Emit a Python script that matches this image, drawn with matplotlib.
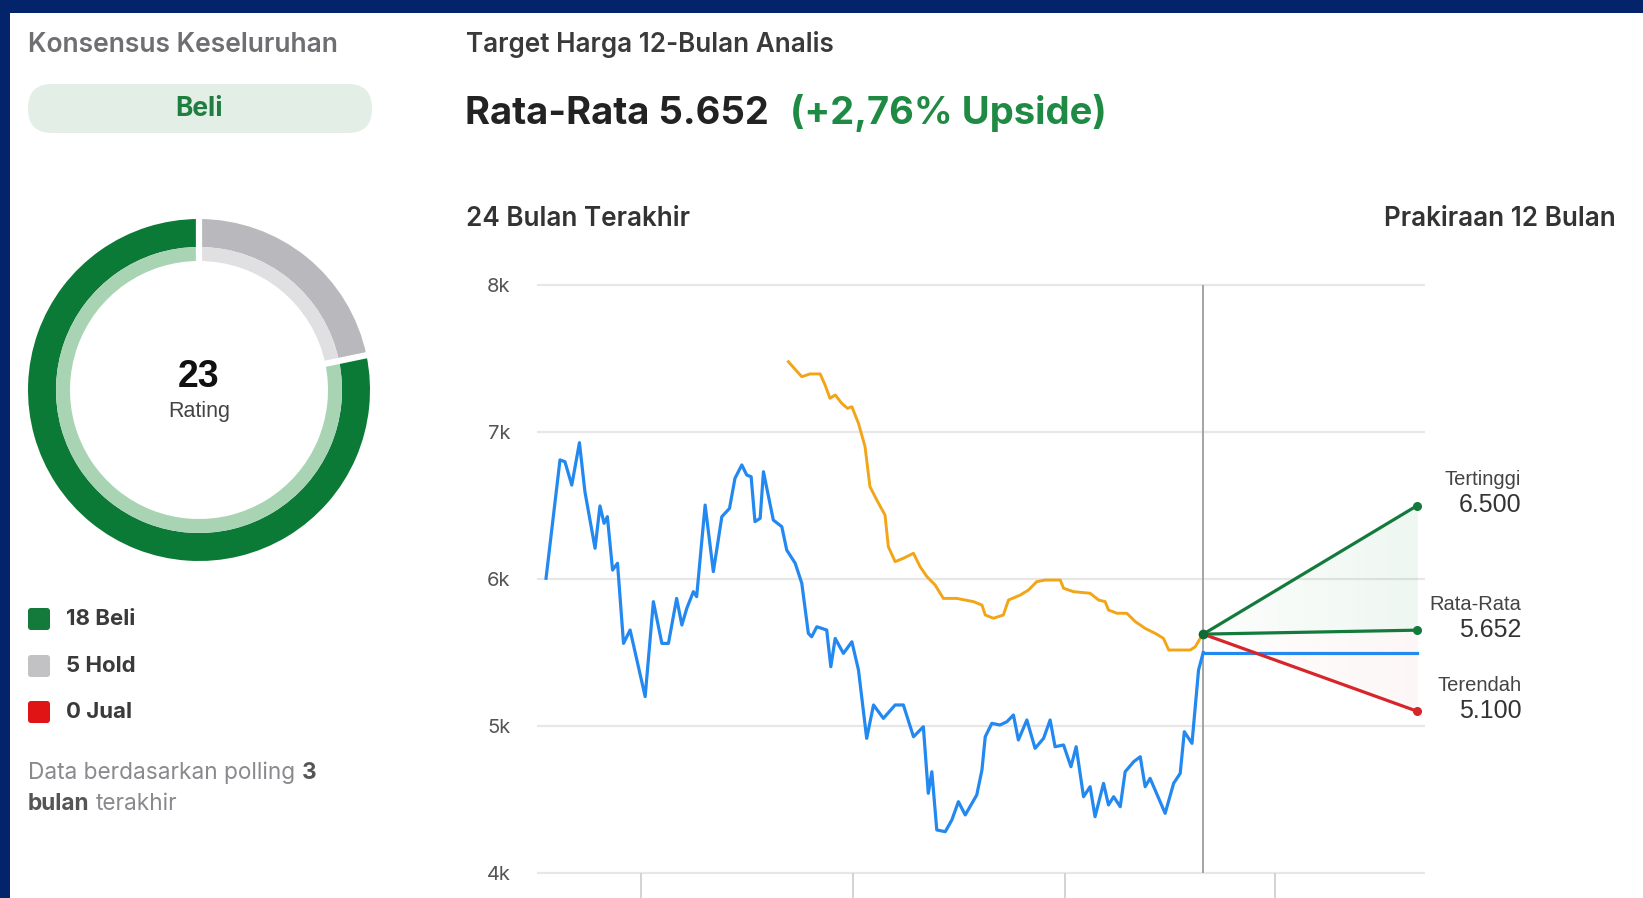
import matplotlib
matplotlib.use("Agg")
import matplotlib.pyplot as plt
from matplotlib.patches import FancyBboxPatch, Rectangle
import numpy as np

plt.rcParams['font.family'] = ['Inter', 'DejaVu Sans']

# ---- data ----
rating_labels = ['Beli', 'Hold', 'Jual']
rating_counts = [18, 5, 0]
total_ratings = 23

# price, last 24 months (x in months)
price_m = [0, 0.51, 0.69, 0.94, 1.22, 1.42, 1.79, 1.97, 2.12, 2.24, 2.43, 2.61, 2.83, 3.07, 3.62,
           3.92, 4.23, 4.47, 4.77, 4.96, 5.14, 5.38, 5.50, 5.81, 6.11, 6.42, 6.70, 6.90, 7.15, 7.33,
           7.49, 7.63, 7.82, 7.94, 8.30, 8.61, 8.79, 9.10, 9.34, 9.58, 9.70, 9.89, 10.25, 10.40, 10.56,
           10.86, 11.17, 11.41, 11.71, 11.96, 12.32, 12.75, 13.05, 13.42, 13.78, 13.96, 14.09, 14.27,
           14.58, 14.82, 15.06, 15.31, 15.73, 15.92, 16.04, 16.28, 16.58, 16.83, 17.07, 17.25, 17.56,
           17.86, 18.17, 18.41, 18.59, 18.90, 19.17, 19.36, 19.63, 19.87, 20.05, 20.36, 20.54, 20.73,
           20.97, 21.15, 21.46, 21.70, 21.88, 22.06, 22.61, 22.92, 23.16, 23.31, 23.59, 23.83, 24.0]
price_v = [6005, 6810, 6798, 6639, 6927, 6594, 6209, 6497, 6379, 6424, 6061, 6107, 5562, 5653, 5200,
           5846, 5562, 5562, 5868, 5687, 5800, 5914, 5880, 6503, 6050, 6424, 6480, 6685, 6776, 6707,
           6696, 6390, 6413, 6730, 6401, 6356, 6197, 6107, 5971, 5630, 5607, 5675, 5653, 5403, 5596,
           5494, 5573, 5381, 4916, 5143, 5052, 5143, 5143, 4927, 4995, 4542, 4689, 4293, 4281, 4361,
           4485, 4395, 4531, 4701, 4927, 5018, 5007, 5029, 5075, 4905, 5041, 4848, 4916, 5041, 4859,
           4871, 4723, 4859, 4519, 4587, 4383, 4610, 4463, 4519, 4451, 4689, 4757, 4791, 4587, 4644,
           4406, 4610, 4678, 4961, 4882, 5381, 5500]

# average analyst target history
target_m = [8.85, 9.34, 9.64, 10.01, 10.19, 10.37, 10.56, 10.80, 11.01, 11.17, 11.41, 11.65, 11.83,
            12.08, 12.38, 12.50, 12.75, 13.05, 13.42, 13.66, 13.91, 14.21, 14.51, 15.00, 15.61, 15.92,
            16.04, 16.34, 16.70, 16.89, 17.32, 17.62, 17.92, 18.23, 18.78, 18.90, 19.26, 19.87, 20.18,
            20.42, 20.54, 20.85, 21.21, 21.52, 21.88, 22.25, 22.55, 22.74, 23.16, 23.53, 23.71, 23.89]
target_v = [7478, 7376, 7395, 7395, 7320, 7229, 7252, 7195, 7161, 7172, 7059, 6900, 6628,
            6537, 6435, 6220, 6118, 6141, 6175, 6084, 6016, 5959, 5868, 5868, 5846, 5823,
            5755, 5733, 5755, 5857, 5891, 5925, 5982, 5993, 5993, 5937, 5914, 5903, 5857,
            5846, 5789, 5767, 5767, 5710, 5664, 5630, 5596, 5517, 5517, 5517, 5539, 5596]

fc_m = [24, 31.82]
fc_start = 5625
fc_high = 6500
fc_avg = 5652
fc_low = 5100
cur_price = 5500

y_ticks = [4000, 5000, 6000, 7000, 8000]
y_labels = ['4k', '5k', '6k', '7k', '8k']
x_tick_m = [3.47, 11.21, 18.96, 26.63]

GREEN = '#137a3b'
NAVY = '#03246b'
BLUE = '#2389f0'
ORANGE = '#f2a516'
RED = '#d7262b'

W, H = 1643, 898
fig = plt.figure(figsize=(W / 100, H / 100), dpi=100)
fig.patch.set_facecolor(NAVY)

# background / overlay axes in pixel coords
bg = fig.add_axes([0, 0, 1, 1])
bg.set_xlim(0, W)
bg.set_ylim(H, 0)
bg.axis('off')
bg.add_patch(Rectangle((10, 13), W - 10, H - 13, facecolor='white', edgecolor='none'))

bg.text(28, 45, 'Konsensus Keseluruhan', fontsize=19, color='#6e6e73', fontweight='semibold', va='center')
bg.add_patch(FancyBboxPatch((28, 84), 344, 49, boxstyle='round,pad=0,rounding_size=24',
                            facecolor='#e3eee6', edgecolor='none'))
bg.text(199, 109, 'Beli', fontsize=19, color='#1f7d3f', fontweight='bold', ha='center', va='center')

# legend
leg_colors = [GREEN, '#c2c2c4', '#e01414']
leg_y = [619, 666, 712]
for lab, cnt, col, yy in zip(rating_labels, rating_counts, leg_colors, leg_y):
    bg.add_patch(FancyBboxPatch((28, yy - 11), 22, 22, boxstyle='round,pad=0,rounding_size=3',
                                facecolor=col, edgecolor='none'))
    bg.text(66, yy, f'{cnt} {lab}', fontsize=16, fontweight='bold', color='#3a3a3a', va='center')

t1 = bg.text(28, 784, 'Data berdasarkan polling', fontsize=16.3, color='#8a8a8e', va='bottom')
bg.annotate('3', xy=(1, 0), xycoords=t1, xytext=(5, 0), textcoords='offset points',
            fontsize=16.3, color='#555', fontweight='bold', va='bottom')
t2 = bg.text(28, 815, 'bulan', fontsize=16.3, color='#555', fontweight='bold', va='bottom')
bg.annotate('terakhir', xy=(1, 0), xycoords=t2, xytext=(4.5, 0), textcoords='offset points',
            fontsize=16.3, color='#8a8a8e', va='bottom')

# right header
bg.text(466, 45, 'Target Harga 12-Bulan Analis', fontsize=18.8, color='#3a3a3a', fontweight='semibold', va='center')
t3 = bg.text(465, 132, f'Rata-Rata {fc_avg/1000:.3f}', fontsize=27.5, color='#222', fontweight='bold', va='bottom')
bg.annotate('(+2,76% Upside)', xy=(1, 0), xycoords=t3, xytext=(15, 0), textcoords='offset points',
            fontsize=27.5, color='#1e8a44', fontweight='bold', va='bottom')
bg.text(466, 219, '24 Bulan Terakhir', fontsize=18.8, color='#333', fontweight='semibold', va='center')
bg.text(1616, 219, 'Prakiraan 12 Bulan', fontsize=18.8, color='#333', fontweight='semibold', va='center', ha='right')

# donut
cx, cy, side = 199, 390, 380
ad = fig.add_axes([(cx - side / 2) / W, 1 - (cy + side / 2) / H, side / W, side / H])
vals = [rating_counts[1], rating_counts[0]]
ad.pie(vals, radius=171, startangle=90, counterclock=False, colors=['#b9b9bd', '#0b7a36'],
       wedgeprops=dict(width=28, edgecolor='none'))
ad.pie(vals, radius=143, startangle=90, counterclock=False, colors=['#e0e0e2', '#a9d4b4'],
       wedgeprops=dict(width=14, edgecolor='none'))
# white separators between segments
bounds = 90 - 360 * np.cumsum([0] + vals[:-1]) / sum(vals)
for ang in bounds:
    r = np.radians(ang)
    ad.plot([120 * np.cos(r), 178 * np.cos(r)], [120 * np.sin(r), 178 * np.sin(r)],
            color='white', lw=4.5, solid_capstyle='butt')
ad.set_xlim(-side / 2, side / 2)
ad.set_ylim(-side / 2, side / 2)
ad.axis('off')
ad.text(0, 13, str(total_ratings), fontsize=27, fontweight='bold', ha='center', va='center',
        color='#111', family='Liberation Sans')
ad.text(0, -22, 'Rating', fontsize=15.5, ha='center', va='center', color='#444', family='Liberation Sans')

# price chart
x0, x1 = 537, 1425
ylo, yhi = 3830, 8102
top_px = 270
ax = fig.add_axes([x0 / W, 0, (x1 - x0) / W, (H - top_px) / H])
ax.set_facecolor('none')
ax.set_xlim(-0.33, 32.1)
ax.set_ylim(ylo, yhi)
for s in ax.spines.values():
    s.set_visible(False)
ax.set_xticks([])
ax.set_yticks(y_ticks, y_labels)
ax.tick_params(axis='y', length=0, pad=19, labelsize=14.5, labelcolor='#555')
for yt in y_ticks:
    ax.axhline(yt, color='#e7e7e7', lw=1.6, zorder=0)
ax.vlines(x_tick_m, ylo, 4000, color='#d0d0d0', lw=1.3)
ax.vlines(24, 4000, 8000, color='#9d9d9d', lw=1.3, zorder=1)

# forecast shading
xs = np.linspace(fc_m[0], fc_m[1], 60)
hi_line = np.interp(xs, fc_m, [fc_start, fc_high])
av_line = np.interp(xs, fc_m, [fc_start, fc_avg])
lo_line = np.interp(xs, fc_m, [fc_start, fc_low])
for i in range(len(xs) - 1):
    a = 0.01 + 0.07 * i / len(xs)
    ax.fill_between(xs[i:i + 2], av_line[i:i + 2], hi_line[i:i + 2], color='#2e9a50', alpha=a, lw=0)
    ax.fill_between(xs[i:i + 2], lo_line[i:i + 2], av_line[i:i + 2], color='#e05050', alpha=a * 0.6, lw=0)

ax.plot(price_m, price_v, color=BLUE, lw=2.3, solid_joinstyle='round', zorder=3)
ax.plot(target_m, target_v, color=ORANGE, lw=2.1, zorder=3)
ax.plot(fc_m, [cur_price, cur_price], color=BLUE, lw=2.3, zorder=3)
ax.plot(fc_m, [fc_start, fc_high], color=GREEN, lw=2.3, zorder=4)
ax.plot(fc_m, [fc_start, fc_avg], color=GREEN, lw=2.3, zorder=4)
ax.plot(fc_m, [fc_start, fc_low], color=RED, lw=2.3, zorder=4)
ax.plot([fc_m[1]] * 2, [fc_high, fc_avg], 'o', color=GREEN, ms=5.5, zorder=5)
ax.plot([fc_m[1]], [fc_low], 'o', color=RED, ms=5.5, zorder=5)
ax.plot([fc_m[0]], [fc_start], 'o', color='#0d6b33', ms=6, zorder=5)

# forecast labels
for name, val in [('Tertinggi', fc_high), ('Rata-Rata', fc_avg), ('Terendah', fc_low)]:
    ax.annotate(name, xy=(fc_m[1], val), xytext=(104, 26), textcoords='offset pixels',
                ha='right', va='center', fontsize=14.5, color='#444', family='Liberation Sans',
                annotation_clip=False)
    ax.annotate(f'{val/1000:.3f}', xy=(fc_m[1], val), xytext=(104, 0), textcoords='offset pixels',
                ha='right', va='center', fontsize=18, color='#333', family='Liberation Sans',
                annotation_clip=False)

fig.savefig('out.png', dpi=100, facecolor=NAVY)
